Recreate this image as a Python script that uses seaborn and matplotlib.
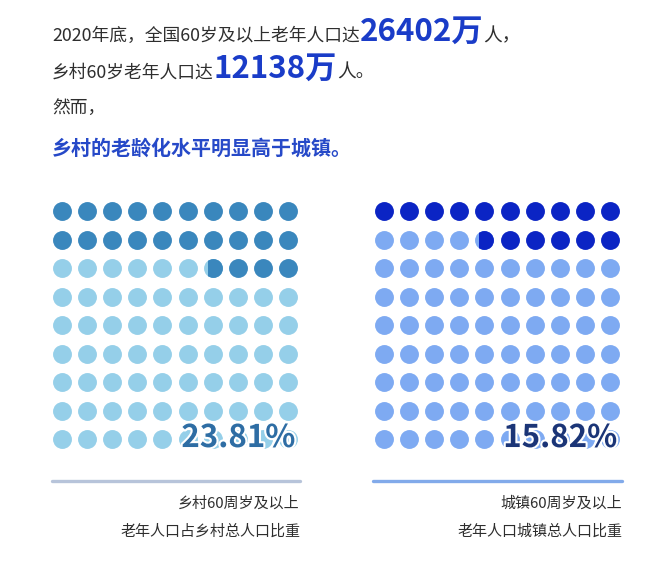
import numpy as np
import pandas as pd
import matplotlib
matplotlib.use("Agg")
import matplotlib.pyplot as plt
import matplotlib.patheffects as pe
from matplotlib.patches import Rectangle
import seaborn as sns

# ---------------- data ----------------
groups = ["乡村", "城镇"]
percent = [23.81, 15.82]
total_elderly = "26402"
rural_elderly = "12138"
captions = [["乡村60周岁及以上", "老年人口占乡村总人口比重"],
            ["城镇60周岁及以上", "老年人口城镇总人口比重"]]
dark_colors = ["#3a87bd", "#0b24c4"]
light_colors = ["#95cfe9", "#7eaaf2"]
pct_colors = ["#2e6da4", "#1b3577"]
line_colors = ["#b7c4da", "#82aaea"]

n_cols, n_rows = 10, 9

sns.set_theme(style="white")
plt.rcParams['font.family'] = ['Noto Sans CJK SC', 'DejaVu Sans']

W, H = 650, 562
DPI = 100
fig = plt.figure(figsize=(W / DPI, H / DPI), dpi=DPI)
fig.patch.set_facecolor("white")


def fx(px):
    return px / W


def fy(py):
    return 1 - py / H


renderer = fig.canvas.get_renderer()
TXT = "#2e2e2e"
BLUE = "#1a3cc8"


def inline(parts, x, y):
    """parts: list of (text, size, weight, color)"""
    for text, size, weight, color in parts:
        t = fig.text(fx(x), fy(y), text, fontsize=size, fontweight=weight,
                     color=color, ha="left", va="baseline")
        bb = t.get_window_extent(renderer=renderer)
        x += bb.width


inline([("2020年底，全国60岁及以上老年人口达", 12.8, "normal", TXT),
        (total_elderly + "万", 22.5, "heavy", BLUE),
        ("人，", 13.5, "normal", TXT)], 52, 41)
inline([("乡村60岁老年人口达", 12.8, "normal", TXT),
        (rural_elderly + "万", 22.5, "heavy", BLUE),
        ("人。", 13.5, "normal", TXT)], 52, 78)
inline([("然而，", 12.8, "normal", TXT)], 52, 113)
inline([("乡村的老龄化水平明显高于城镇。", 14.4, "bold", "#2649c8")], 52, 155)

# ---------------- dot grids ----------------
col_px = 25.1
row_px = 28.5
grid_left = [49.5, 371.5]
grid_top = 196.8
marker_s = 185


def area_right(c):
    return np.arccos(c) - c * np.sqrt(1 - c * c)


def chord_for_fraction(frac):
    lo, hi = -1.0, 1.0
    for _ in range(60):
        mid = (lo + hi) / 2
        if area_right(mid) / np.pi > frac:
            lo = mid
        else:
            hi = mid
    return (lo + hi) / 2


for gi in range(2):
    pct = percent[gi]
    n_full = int(np.floor(pct))
    frac = pct - n_full
    ax = fig.add_axes([fx(grid_left[gi]), fy(grid_top + n_rows * row_px),
                       n_cols * col_px / W, n_rows * row_px / H])
    ax.set_xlim(-0.5, n_cols - 0.5)
    ax.set_ylim(n_rows - 0.5, -0.5)
    ax.axis("off")

    rows, cols, kind = [], [], []
    for k in range(n_rows * n_cols):
        r = k // n_cols
        c = n_cols - 1 - (k % n_cols)  # fills from the right
        rows.append(r)
        cols.append(c)
        kind.append("dark" if k < n_full else "light")
    df = pd.DataFrame({"row": rows, "col": cols, "kind": kind})

    sns.scatterplot(data=df[df.kind == "light"], x="col", y="row", ax=ax,
                    color=light_colors[gi], s=marker_s, linewidth=0,
                    legend=False)
    sns.scatterplot(data=df[df.kind == "dark"], x="col", y="row", ax=ax,
                    color=dark_colors[gi], s=marker_s, linewidth=0,
                    legend=False)
    # partial dot
    pr = n_full // n_cols
    pc = n_cols - 1 - (n_full % n_cols)
    part = pd.DataFrame({"col": [pc], "row": [pr]})
    sns.scatterplot(data=part, x="col", y="row", ax=ax,
                    color=dark_colors[gi], s=marker_s, linewidth=0,
                    legend=False)
    coll = ax.collections[-1]
    r_data = (np.sqrt(marker_s) * DPI / 72 / 2) / col_px
    cut = pc + chord_for_fraction(frac) * r_data
    rect = Rectangle((cut, pr - 1), 2, 2, transform=ax.transData)
    coll.set_clip_path(rect)

    ax.text(n_cols - 0.5 - 0.2, n_rows - 1 + 0.28, f"{pct:.2f}%",
            fontsize=22.5, fontweight="bold", color=pct_colors[gi],
            ha="right", va="baseline",
            path_effects=[pe.withStroke(linewidth=3, foreground="white")])

# ---------------- bottom lines & captions ----------------
line_x = [(52, 300), (373, 622)]
for gi in range(2):
    x0, x1 = line_x[gi]
    fig.add_artist(plt.Line2D([fx(x0), fx(x1)], [fy(481), fy(481)],
                              color=line_colors[gi], linewidth=2.4,
                              transform=fig.transFigure))
    fig.text(fx(x1), fy(508), captions[gi][0], fontsize=10.8, color=TXT,
             ha="right", va="baseline")
    fig.text(fx(x1), fy(536), captions[gi][1], fontsize=10.8, color=TXT,
             ha="right", va="baseline")

fig.savefig("out.png", dpi=DPI, facecolor="white")
